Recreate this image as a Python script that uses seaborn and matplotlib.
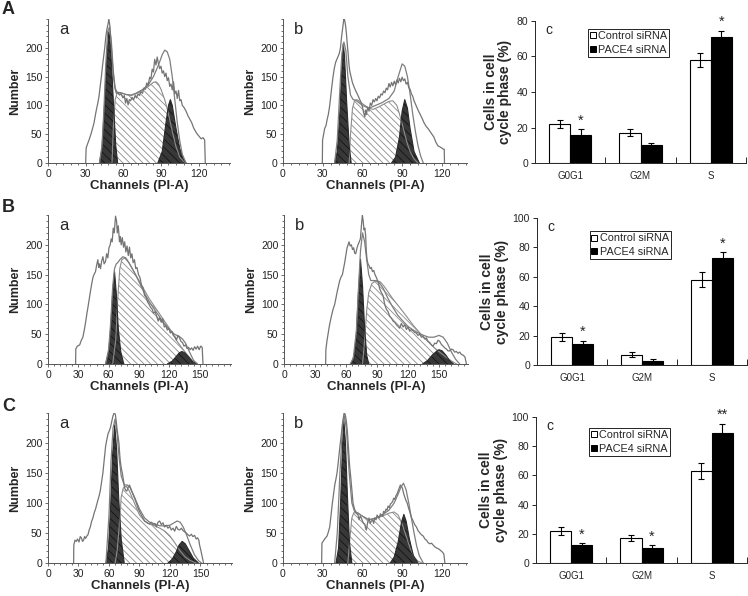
import numpy as np
import pandas as pd
import matplotlib
matplotlib.use('Agg')
import matplotlib.pyplot as plt
import seaborn as sns
from matplotlib.ticker import MultipleLocator, FixedLocator
from matplotlib.lines import Line2D

# ---------------- histogram data (channel, count) ----------------
# row A, panel a
Aa_raw_x = [30.0, 30.4, 31.5, 32.7, 33.6, 34.5, 35.5, 36.6, 37.5, 38.5, 39.6, 40.6, 41.5, 42.5, 43.4, 44.3, 45.2, 46.0,
            46.9, 47.8, 48.5, 49.3, 50.2, 51.0, 51.8, 52.5, 53.4, 54.4, 55.5, 57.0, 58.2, 59.7, 60.8, 61.8, 62.8, 63.8,
            64.8, 65.8, 67.0, 68.2, 69.4, 70.5, 71.7, 72.9, 74.0, 75.3, 76.5, 77.6, 78.7, 79.8, 81.0, 82.0, 83.0, 84.0,
            85.0, 86.0, 87.0, 88.0, 89.0, 90.0, 91.0, 92.0, 93.0, 94.0, 95.0, 96.0, 97.0, 98.0, 99.0, 100.0, 101.0,
            102.0, 103.0, 104.0, 105.0, 106.0, 107.0, 108.5, 110.0, 111.5, 113.0, 114.5, 116.0, 117.5, 119.0, 120.5,
            122.0, 123.5, 124.8, 125.3]
Aa_raw_y = [0, 26, 33, 40, 46, 52, 60, 69, 80, 92, 103, 115, 132, 149, 168, 184, 200, 218,
            232, 241, 250, 238, 210, 185, 160, 144, 130, 121, 122, 118, 120, 113, 117, 104, 112, 101,
            110, 108, 114, 110, 117, 113, 120, 117, 124, 121, 130, 128, 139, 135, 149, 146, 163, 158,
            180, 170, 184, 172, 164, 168, 156, 160, 150, 156, 143, 148, 133, 137, 127, 141, 120,
            125, 112, 126, 108, 110, 100, 96, 90, 82, 76, 70, 61, 55, 50, 46,
            42, 44, 40, 0]
Aa_fit_x = [41, 43, 44.5, 46, 47.5, 49, 50.5, 52, 53.5, 55, 58, 62, 66, 70, 75, 80, 84, 88, 91, 93, 95, 97, 99, 101,
            103, 105, 107, 110]
Aa_fit_y = [0, 30, 90, 170, 228, 236, 210, 160, 130, 123, 122, 119, 118, 121, 127, 136, 150, 170, 188, 196, 193, 180,
            150, 110, 70, 38, 15, 0]
Aa_g1_x = [41, 43, 45, 47, 48.5, 50, 52, 54, 55.5]
Aa_g1_y = [0, 25, 100, 190, 228, 200, 110, 30, 0]
Aa_s_x = [51, 52, 53.5, 55, 58, 62, 66, 70, 75, 80, 84, 86, 88, 90, 93, 96, 99, 102, 105, 108, 110]
Aa_s_y = [0, 60, 110, 121, 122, 119, 117, 120, 126, 133, 140, 141, 137, 128, 110, 85, 55, 28, 10, 3, 0]
Aa_g2_x = [87.5, 91, 94, 96, 97.5, 99, 102, 105, 108, 110]
Aa_g2_y = [0, 20, 70, 100, 110, 100, 60, 25, 6, 0]

# row A, panel b
Ab_raw_x = [29.7, 29.9, 31.5, 32.5, 33.3, 34.3, 35.3, 36.5, 37.8, 38.8, 39.8, 40.7, 41.6, 42.5, 43.4, 44.4, 45.4, 46.0,
            46.6, 47.3, 47.9, 48.6, 49.2, 49.8, 50.4, 51.4, 52.4, 53.7, 55.0, 56.5, 58.0, 59.0, 60.0, 60.8, 61.8, 62.5,
            63.0, 64.0, 65.0, 66.0, 67.0, 68.0, 69.0, 70.0, 71.0, 72.0, 73.0, 74.0, 75.0, 76.0, 77.0, 78.0, 79.0, 80.0,
            81.0, 82.0, 83.0, 84.0, 85.0, 86.0, 87.0, 88.0, 89.0, 90.0, 91.0, 92.0, 93.0, 94.0, 95.0, 96.0, 97.0, 98.0,
            99.0, 100.5, 102.0, 103.5, 105.0, 106.5, 108.0, 109.5, 111.0, 112.5, 114.0, 115.5, 117.0, 118.5, 120.0,
            121.0, 121.8, 122.0]
Ab_raw_y = [0, 40, 60, 65, 75, 85, 100, 125, 150, 165, 175, 180, 185, 190, 200, 222, 240, 250,
            248, 238, 225, 205, 190, 172, 160, 150, 140, 132, 125, 118, 110, 105, 98, 88, 80, 92,
            84, 97, 90, 104, 100, 110, 106, 112, 108, 116, 113, 120, 118, 125, 122, 130, 127, 138,
            132, 140, 134, 142, 136, 144, 139, 147, 141, 149, 143, 146, 137, 140, 131, 128, 120, 116,
            108, 100, 92, 85, 78, 70, 64, 60, 55, 50, 45, 36, 30, 28, 26,
            24, 24, 0]
Ab_fit_x = [39, 41, 43, 44.5, 46, 47.5, 49, 51, 53, 55, 60, 65, 70, 75, 80, 84, 87, 90, 92, 94, 96, 98, 100, 102, 104, 106]
Ab_fit_y = [0, 40, 130, 190, 210, 195, 150, 118, 110, 109, 100, 95, 100, 105, 112, 125, 150, 172, 168, 150, 120, 85, 55,
            30, 12, 0]
Ab_g1_x = [39, 41, 43, 44.5, 45.5, 46.5, 48, 50, 51.5]
Ab_g1_y = [0, 20, 90, 170, 207, 185, 110, 30, 0]
Ab_s_x = [50, 51, 52.5, 54, 56, 60, 65, 68, 72, 76, 80, 83, 86, 88, 90, 92, 94, 96, 99, 102]
Ab_s_y = [0, 50, 95, 108, 110, 103, 95, 93, 97, 102, 107, 108, 100, 85, 68, 50, 33, 20, 7, 0]
Ab_g2_x = [82, 85, 88, 90, 92, 94, 96, 99, 103]
Ab_g2_y = [0, 10, 45, 90, 110, 95, 60, 20, 0]

# row B, panel a
Ba_raw_x = [27.3, 27.5, 29.0, 31.3, 33.0, 34.5, 36.0, 37.2, 38.5, 39.5, 40.7, 41.8, 43.0, 44.4, 45.5, 47.0, 48.0, 49.3,
            50.2, 51.0, 52.0, 53.0, 54.3, 55.5, 56.9, 58.0, 59.2, 60.3, 61.5, 62.5, 63.5, 64.5, 65.5, 66.8, 67.8, 68.5,
            69.5, 70.7, 71.5, 72.4, 73.5, 74.7, 75.8, 77.0, 78.2, 79.4, 80.6, 81.8, 83.0, 84.2, 85.5, 86.8, 88.0, 89.5,
            91.0, 92.5, 94.0, 95.5, 97.0, 98.5, 100.0, 101.5, 103.0, 104.5, 106.0, 107.5, 109.0, 110.5, 112.0, 113.5,
            115.0, 116.5, 118.0, 119.5, 121.0, 122.5, 124.0, 125.5, 127.0, 128.5, 130.0, 131.5, 133.0, 134.5, 136.0,
            137.5, 139.0, 140.5, 142.0, 143.5, 145.0, 146.5, 148.0, 149.5, 151.0, 152.5, 153.3]
Ba_raw_y = [0, 25, 30, 32, 40, 45, 58, 70, 85, 95, 108, 120, 132, 145, 150, 155, 165, 175,
            162, 168, 160, 172, 180, 168, 172, 185, 178, 195, 200, 210, 205, 228, 220, 248, 240, 220,
            232, 205, 214, 200, 212, 196, 205, 188, 198, 182, 196, 178, 185, 170, 175, 160, 162, 150,
            145, 132, 128, 115, 112, 104, 100, 95, 92, 85, 88, 80, 72, 78, 70, 76,
            62, 64, 57, 60, 52, 55, 48, 46, 40, 48, 44, 38, 36, 30, 32,
            26, 28, 24, 27, 23, 29, 25, 30, 24, 30, 28, 0]
Ba_fit_x = [57, 60, 62, 64, 65.8, 67.5, 69, 71, 74, 77, 80, 85, 90, 95, 100, 105, 110, 115, 120, 125, 130, 133, 136,
            140, 144, 148]
Ba_fit_y = [0, 25, 70, 130, 160, 168, 170, 175, 180, 178, 170, 155, 138, 120, 105, 92, 80, 68, 58, 50, 46, 42, 35, 20,
            6, 0]
Ba_g1_x = [57, 60, 62, 64, 65.8, 67.5, 69.5, 72, 75]
Ba_g1_y = [0, 20, 60, 120, 155, 120, 60, 20, 0]
Ba_s_x = [64, 67, 69, 71, 73, 76, 80, 90, 100, 110, 120, 127, 132, 138, 143, 147]
Ba_s_y = [0, 40, 110, 160, 175, 178, 170, 140, 110, 85, 60, 40, 28, 15, 5, 0]
Ba_g2_x = [118, 123, 127, 130, 132.5, 135, 139, 143, 147]
Ba_g2_y = [0, 5, 13, 19, 21, 19, 12, 4, 0]

# row B, panel b
Bb_raw_x = [40.3, 40.5, 41.5, 42.6, 44.0, 45.8, 47.5, 49.0, 50.2, 51.3, 52.6, 53.9, 55.2, 56.5, 57.6, 58.7, 59.8, 61.0,
            62.0, 62.9, 64.0, 65.2, 66.3, 67.4, 68.4, 69.4, 70.5, 71.6, 72.8, 73.9, 74.8, 75.8, 76.6, 77.4, 78.2, 79.0,
            79.6, 80.3, 81.3, 82.3, 83.4, 84.5, 85.6, 86.8, 88.0, 89.4, 91.0, 92.6, 94.2, 95.8, 97.4, 99.0, 100.6,
            102.3, 103.9, 105.5, 107.1, 108.7, 110.3, 111.9, 113.5, 115.2, 116.8, 118.4, 120.0, 121.6, 123.2, 124.8,
            126.4, 128.0, 129.6, 131.3, 132.9, 134.5, 136.1, 137.7, 139.3, 141.0, 142.6, 144.2, 145.8, 147.4, 149.0,
            150.6, 152.2, 153.9, 155.5, 157.1, 158.7, 160.3, 161.9, 163.5, 165.1, 166.8, 168.4, 170.0, 171.6, 173.2,
            175.0, 176.5]
Bb_raw_y = [0, 24, 38, 50, 65, 80, 92, 100, 110, 120, 130, 140, 146, 150, 160, 170, 182, 195,
            200, 205, 198, 200, 192, 195, 186, 185, 194, 200, 205, 210, 230, 250, 240, 225, 228, 215,
            190, 175, 168, 165, 160, 162, 155, 157, 150, 145, 138, 126, 120, 115, 100, 92, 88,
            80, 77, 72, 70, 66, 63, 60, 68, 62, 66, 58, 62, 55, 58, 56,
            53, 52, 48, 50, 45, 46, 42, 44, 38, 36, 32, 30, 35, 34, 40,
            38, 33, 30, 27, 25, 22, 22, 25, 24, 20, 21, 18, 20, 16, 15,
            12, 0]
Bb_fit_x = [64, 67, 70, 72, 74, 76, 78, 80, 82, 84, 88, 92, 96, 100, 105, 110, 115, 120, 125, 130, 135, 140, 145, 150,
            154, 158, 162, 166, 170]
Bb_fit_y = [0, 10, 55, 125, 190, 220, 205, 175, 150, 140, 140, 137, 127, 112, 96, 82, 72, 63, 57, 52, 48, 45, 45, 48,
            45, 35, 20, 8, 0]
Bb_g1_x = [65, 68, 70, 72, 74, 76, 78, 80, 82]
Bb_g1_y = [0, 15, 50, 120, 176, 130, 60, 15, 0]
Bb_s_x = [76, 78, 80, 82, 85, 89, 93, 97, 105, 115, 125, 135, 145, 152, 158, 163, 167]
Bb_s_y = [0, 40, 90, 120, 135, 140, 138, 130, 110, 88, 65, 45, 28, 18, 10, 4, 0]
Bb_g2_x = [134, 139, 144, 148, 150, 153, 157, 160, 164]
Bb_g2_y = [0, 6, 16, 22, 24, 22, 14, 6, 0]

# row C, panel a
Ca_raw_x = [25.2, 25.4, 26.5, 27.8, 29.0, 30.5, 31.7, 32.8, 34.0, 35.0, 36.0, 37.0, 38.2, 39.3, 40.5, 41.6, 43.0, 44.2,
            45.5, 46.8, 48.0, 49.1, 50.3, 51.4, 52.7, 54.0, 55.3, 56.7, 57.8, 59.0, 60.2, 61.3, 62.6, 63.9, 65.0, 66.2,
            67.0, 67.8, 68.8, 69.8, 70.5, 71.1, 72.1, 73.1, 74.2, 75.4, 76.5, 77.6, 78.8, 80.2, 81.8, 83.5, 85.2, 86.9,
            88.5, 90.2, 91.8, 93.4, 95.0, 96.7, 98.3, 100.0, 101.6, 103.3, 105.0, 106.6, 108.2, 109.8, 111.5, 113.1,
            114.7, 116.4, 118.0, 119.7, 121.3, 123.0, 124.6, 126.2, 127.9, 129.5, 131.2, 132.8, 134.4, 136.0, 137.7,
            139.3, 141.0, 142.5, 144.2, 145.8, 147.2, 148.4, 149.1, 150.5, 152.0, 153.0]
Ca_raw_y = [0, 30, 38, 36, 40, 35, 44, 42, 36, 38, 44, 41, 45, 47, 55, 60, 70, 75,
            84, 90, 98, 105, 112, 120, 135, 150, 172, 195, 205, 215, 220, 225, 235, 245, 250, 248,
            238, 225, 212, 200, 182, 170, 158, 150, 138, 125, 121, 120, 126, 130, 122, 115, 108, 100,
            92, 85, 80, 75, 70, 68, 66, 65, 68, 64, 66, 60, 68, 70, 64, 67,
            60, 63, 58, 61, 55, 58, 53, 61, 56, 55, 58, 54, 52, 50, 47,
            45, 48, 44, 46, 40, 42, 38, 30, 20, 8, 0]
Ca_fit_x = [57, 60, 62, 64, 66, 68, 70, 72, 75, 78, 81, 85, 90, 95, 100, 105, 110, 115, 120, 124, 127, 130, 133, 136,
            140, 144, 148, 151]
Ca_fit_y = [0, 80, 170, 225, 240, 215, 175, 145, 130, 130, 125, 110, 90, 75, 68, 65, 62, 62, 63, 67, 70, 68, 60, 48, 30,
            14, 4, 0]
Ca_g1_x = [57, 59.5, 61.5, 63.5, 65.6, 67.5, 69.5, 72, 75]
Ca_g1_y = [0, 25, 90, 180, 230, 190, 110, 40, 0]
Ca_s_x = [66, 68, 70, 72, 74, 77, 80, 85, 90, 95, 100, 105, 110, 115, 120, 125, 130, 135, 140, 146]
Ca_s_y = [0, 20, 60, 110, 125, 128, 120, 100, 80, 70, 65, 62, 58, 53, 45, 33, 20, 10, 4, 0]
Ca_g2_x = [118, 122, 126, 129, 132, 135, 139, 143, 148]
Ca_g2_y = [0, 6, 18, 30, 36, 32, 20, 8, 0]

# row C, panel b
Cb_raw_x = [29.2, 29.4, 31.5, 33.3, 34.3, 35.3, 36.3, 37.3, 38.2, 39.1, 40.0, 40.8, 41.6, 42.3, 43.2, 44.1, 44.8, 45.4,
            46.2, 46.9, 47.4, 47.9, 48.6, 49.2, 49.8, 50.4, 51.1, 51.7, 52.3, 52.9, 54.0, 55.0, 55.8, 56.7, 57.5, 58.3,
            59.2, 60.0, 60.9, 61.8, 62.4, 63.0, 64.0, 65.0, 65.9, 66.8, 67.7, 68.5, 69.3, 70.3, 71.1, 71.8, 72.8, 73.6,
            74.4, 75.2, 76.0, 76.9, 77.8, 78.6, 79.4, 80.3, 81.1, 81.9, 82.8, 83.6, 84.4, 85.3, 86.1, 87.0, 87.8, 88.7,
            89.5, 90.2, 91.1, 92.0, 92.9, 93.8, 94.8, 95.8, 97.0, 98.3, 99.5, 100.8, 102.0, 103.4, 104.6, 105.9, 107.2,
            108.4, 109.6, 110.9, 112.2, 113.4, 114.7, 116.0, 117.2, 118.5, 119.5, 120.5, 121.5, 122.3]
Cb_raw_y = [0, 33, 40, 45, 52, 60, 80, 100, 115, 130, 140, 150, 165, 180, 198, 215, 230, 240,
            250, 248, 243, 235, 220, 200, 180, 160, 145, 130, 115, 100, 90, 85, 82, 80, 72, 78,
            75, 70, 66, 65, 58, 55, 68, 75, 66, 70, 72, 66, 75, 72, 80, 77, 75, 82,
            80, 78, 86, 84, 90, 88, 95, 92, 98, 100, 102, 108, 106, 112, 115, 120, 125, 130,
            127, 125, 116, 110, 104, 100, 92, 85, 76, 70, 64, 60, 54, 50, 47, 45, 40,
            38, 34, 32, 33, 30, 27, 25, 24, 22, 20, 18, 15, 0]
Cb_fit_x = [39, 41, 43, 45, 46.5, 48, 50, 52, 54, 57, 60, 65, 70, 75, 80, 84, 87, 89, 91, 93, 95, 97, 99, 101, 103, 106]
Cb_fit_y = [0, 50, 150, 230, 245, 220, 150, 100, 86, 83, 78, 72, 75, 80, 88, 100, 115, 126, 133, 122, 100, 75, 50, 28,
            12, 0]
Cb_g1_x = [40, 42, 43.5, 45, 46, 47.2, 48.7, 50.2, 52]
Cb_g1_y = [0, 25, 100, 200, 237, 200, 110, 35, 0]
Cb_s_x = [49, 50.5, 52, 53.5, 56, 60, 65, 70, 75, 80, 84, 87, 90, 93, 96, 99, 102, 105]
Cb_s_y = [0, 40, 75, 84, 83, 78, 72, 75, 78, 83, 85, 80, 65, 45, 25, 10, 3, 0]
Cb_g2_x = [81, 84, 87, 89.5, 91.3, 93, 95.5, 98.5, 102]
Cb_g2_y = [0, 10, 35, 68, 81, 70, 40, 12, 0]

# ---------------- bar chart data (%) ----------------
phases = ['G0G1', 'G2M', 'S']
groups = ['Control siRNA', 'PACE4 siRNA']

A_ctrl = [22, 17, 58]
A_ctrl_err = [2, 2, 4]
A_pace = [16, 10, 71]
A_pace_err = [3, 1.2, 3.5]
A_stars = ['*', '', '*']

B_ctrl = [19, 7, 58]
B_ctrl_err = [2.7, 1.8, 5]
B_pace = [14, 3, 73]
B_pace_err = [2.5, 1, 3.6]
B_stars = ['*', '', '*']

C_ctrl = [22, 17, 63]
C_ctrl_err = [3, 2, 5.5]
C_pace = [12, 10, 89]
C_pace_err = [1.5, 2, 6.5]
C_stars = ['*', '*', '**']

sns.set_style('ticks')
plt.rcParams['font.family'] = ['Liberation Sans', 'DejaVu Sans']
plt.rcParams['hatch.linewidth'] = 0.6

W, H = 748, 596
fig = plt.figure(figsize=(W / 100, H / 100), dpi=100)


def box(l, r, t, b):
    return fig.add_axes([l / W, 1 - b / H, (r - l) / W, (b - t) / H])


def line(ax, xs, ys, color, lw=0.9):
    sns.lineplot(x=xs, y=ys, ax=ax, color=color, linewidth=lw, estimator=None, sort=False, legend=False)


def histo(ax, raw_x, raw_y, fit_x, fit_y, g1_x, g1_y, s_x, s_y, g2_x, g2_y, xmax, xt, tag):
    ax.fill_between(s_x, s_y, facecolor='white', edgecolor='#8c8c8c', hatch='\\\\\\\\\\', linewidth=0)
    line(ax, s_x, s_y, '#8c8c8c', 0.8)
    for gx, gy in ((g1_x, g1_y), (g2_x, g2_y)):
        ax.fill_between(gx, gy, facecolor='#383838', edgecolor='#141414', hatch='\\\\\\\\', linewidth=0)
        line(ax, gx, gy, '#2a2a2a', 0.8)
    line(ax, fit_x, fit_y, '#7e7e7e')
    line(ax, raw_x, raw_y, '#747474')
    ax.set_xlim(0, xmax)
    ax.set_ylim(0, 250)
    ax.xaxis.set_major_locator(FixedLocator(xt))
    ax.xaxis.set_minor_locator(MultipleLocator(6))
    ax.yaxis.set_major_locator(FixedLocator([0, 50, 100, 150, 200]))
    ax.yaxis.set_minor_locator(MultipleLocator(10))
    ax.tick_params(which='both', labelsize=7.5, color='#555555', labelcolor='#222222',
                   length=2.5, width=0.6, pad=1.5)
    ax.tick_params(which='minor', length=1.5)
    sns.despine(ax=ax)
    for s in ('left', 'bottom'):
        ax.spines[s].set_color('#555555')
        ax.spines[s].set_linewidth(0.7)
    ax.set_xlabel('Channels (PI-A)', fontsize=9.5, fontweight='bold', labelpad=1)
    ax.set_ylabel('Number', fontsize=9, fontweight='bold', labelpad=3)
    ax.text(0.06, 0.98, tag, transform=ax.transAxes, ha='left', va='top', fontsize=12)


def bars(ax, ctrl, ctrl_err, pace, pace_err, stars, ymax, yt, leg_y):
    df = pd.DataFrame({'phase': phases * 2, 'pct': ctrl + pace,
                       'grp': [groups[0]] * 3 + [groups[1]] * 3})
    sns.barplot(data=df, x='phase', y='pct', hue='grp', hue_order=groups, palette=['white', 'black'],
                saturation=1, edgecolor='black', linewidth=0.8, width=0.6, errorbar=None, legend=False, ax=ax)
    for cont, err, st in zip(ax.containers, [ctrl_err, pace_err], [['', '', ''], stars]):
        xs = [p.get_x() + p.get_width() / 2 for p in cont]
        hs = [p.get_height() for p in cont]
        ax.errorbar(xs, hs, yerr=err, fmt='none', ecolor='black', elinewidth=0.8, capsize=2.5, capthick=0.8)
        for x, h, e, s in zip(xs, hs, err, st):
            if s:
                ax.text(x, h + e + 0.06 * ymax, s, ha='center', va='center', fontsize=10.5, clip_on=False)
    ax.set_xlim(-0.5, 2.5)
    ax.set_ylim(0, ymax)
    ax.set_yticks(yt)
    ax.set_xticks([0, 1, 2])
    ax.set_xticklabels(phases)
    ax.set_xticks([0.5, 1.5, 2.5], minor=True)
    ax.tick_params(axis='x', which='major', length=0, pad=6, labelsize=7)
    ax.tick_params(axis='x', which='minor', direction='in', length=4, width=0.7)
    ax.tick_params(axis='y', length=3, width=0.7, labelsize=7.5, pad=2)
    sns.despine(ax=ax)
    for s in ('left', 'bottom'):
        ax.spines[s].set_linewidth(0.7)
    ax.set_xlabel('')
    ax.set_ylabel('Cells in cell\ncycle phase (%)', fontsize=10, fontweight='bold', linespacing=1.05, labelpad=3)
    ax.text(0.05, 0.985, 'c', transform=ax.transAxes, ha='left', va='top', fontsize=10)
    handles = [Line2D([], [], marker='s', ls='none', markersize=5, markerfacecolor=c,
                      markeredgecolor='black', markeredgewidth=0.7) for c in ('white', 'black')]
    leg = ax.legend(handles, groups, loc='upper left', bbox_to_anchor=(0.25, leg_y), fontsize=7.8,
                    frameon=True, fancybox=False, framealpha=1, edgecolor='black', handlelength=0.5,
                    handletextpad=0.25, borderpad=0.2, labelspacing=0.35, borderaxespad=0)
    leg.get_frame().set_linewidth(0.6)


xt120 = [0, 30, 60, 90, 120]
xt150 = [0, 30, 60, 90, 120, 150]

histo(box(48, 230, 19, 163), Aa_raw_x, Aa_raw_y, Aa_fit_x, Aa_fit_y, Aa_g1_x, Aa_g1_y, Aa_s_x, Aa_s_y,
      Aa_g2_x, Aa_g2_y, 145, xt120, 'a')
histo(box(283, 467, 19, 163), Ab_raw_x, Ab_raw_y, Ab_fit_x, Ab_fit_y, Ab_g1_x, Ab_g1_y, Ab_s_x, Ab_s_y,
      Ab_g2_x, Ab_g2_y, 139, xt120, 'b')
bars(box(535, 746, 21, 163), A_ctrl, A_ctrl_err, A_pace, A_pace_err, A_stars, 80, [0, 20, 40, 60, 80], 0.945)

histo(box(48, 231, 215, 364), Ba_raw_x, Ba_raw_y, Ba_fit_x, Ba_fit_y, Ba_g1_x, Ba_g1_y, Ba_s_x, Ba_s_y,
      Ba_g2_x, Ba_g2_y, 181, xt150, 'a')
histo(box(284, 468, 215, 364), Bb_raw_x, Bb_raw_y, Bb_fit_x, Bb_fit_y, Bb_g1_x, Bb_g1_y, Bb_s_x, Bb_s_y,
      Bb_g2_x, Bb_g2_y, 178, xt150, 'b')
bars(box(537, 747, 218, 365), B_ctrl, B_ctrl_err, B_pace, B_pace_err, B_stars, 100,
     [0, 20, 40, 60, 80, 100], 0.91)

histo(box(48, 232, 413, 563), Ca_raw_x, Ca_raw_y, Ca_fit_x, Ca_fit_y, Ca_g1_x, Ca_g1_y, Ca_s_x, Ca_s_y,
      Ca_g2_x, Ca_g2_y, 181, xt150, 'a')
histo(box(283, 467, 413, 563), Cb_raw_x, Cb_raw_y, Cb_fit_x, Cb_fit_y, Cb_g1_x, Cb_g1_y, Cb_s_x, Cb_s_y,
      Cb_g2_x, Cb_g2_y, 139, xt120, 'b')
bars(box(536, 747, 417, 563), C_ctrl, C_ctrl_err, C_pace, C_pace_err, C_stars, 100,
     [0, 20, 40, 60, 80, 100], 0.925)

for letter, ypx in (('A', 1), ('B', 199), ('C', 398)):
    fig.text(2 / W, 1 - ypx / H, letter, ha='left', va='top', fontsize=13, fontweight='bold')

fig.savefig('out.png', dpi=100)
